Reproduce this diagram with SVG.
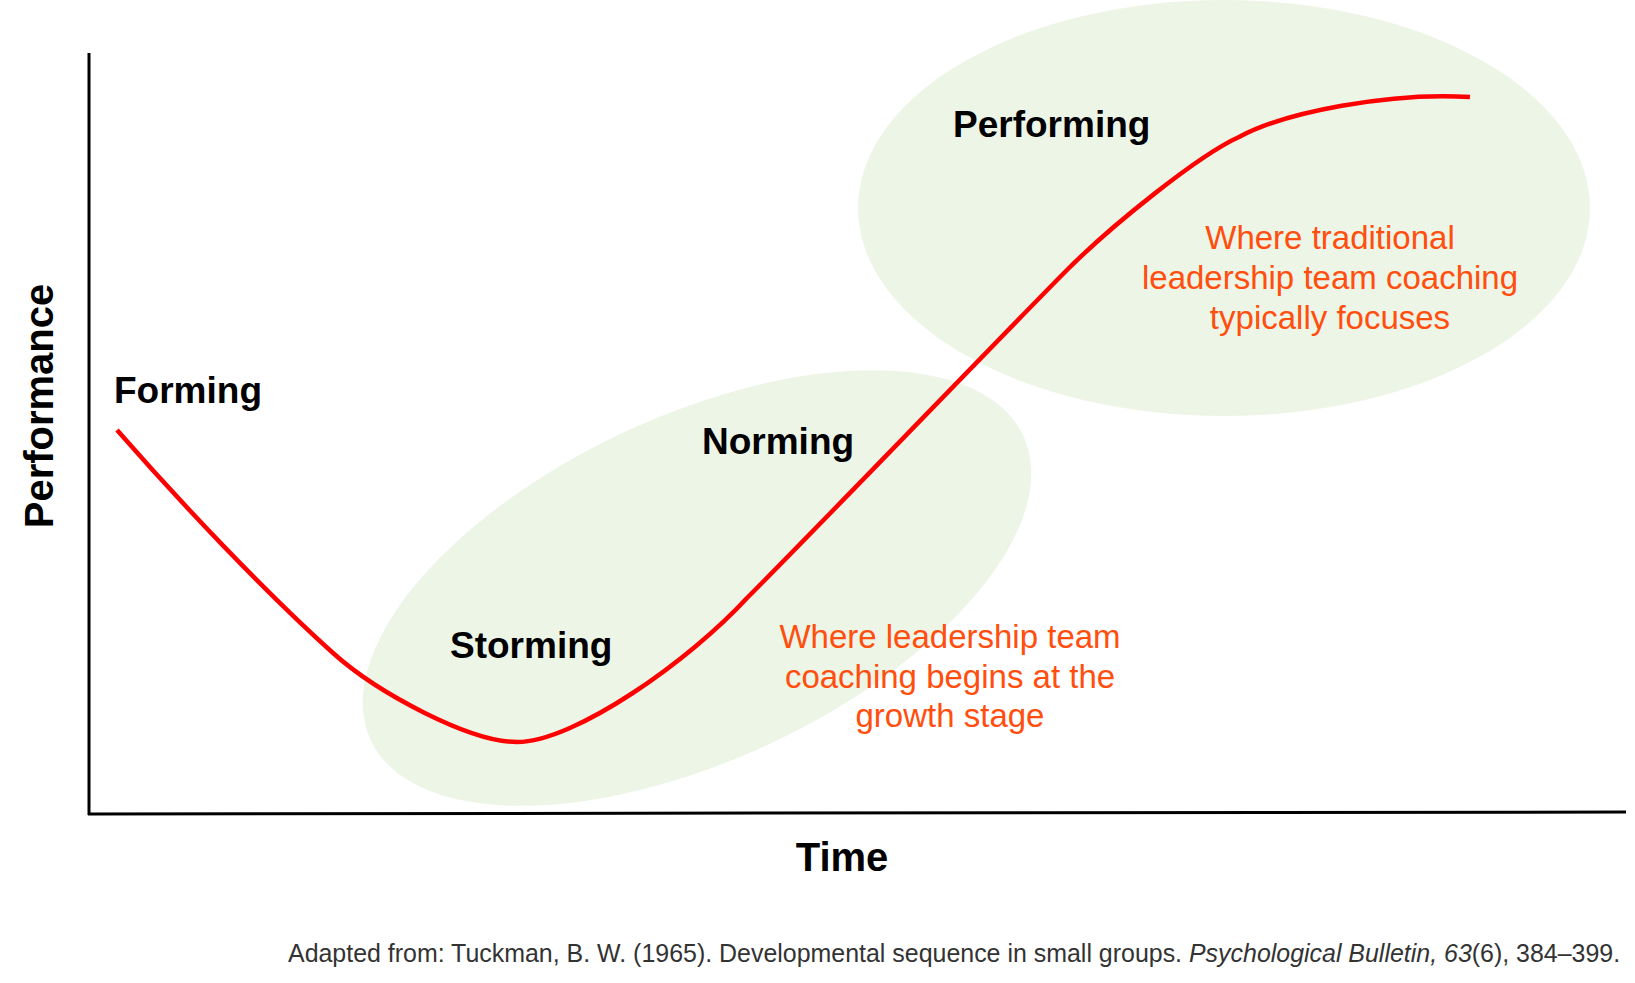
<svg xmlns="http://www.w3.org/2000/svg" width="1635" height="983" viewBox="0 0 1635 983">
<style>
.zone{fill:#EDF5E7;}
.stage{font-family:"Liberation Sans",Arial,sans-serif;font-weight:bold;font-size:37px;fill:#000;}
.axis{font-family:"Liberation Sans",Arial,sans-serif;font-weight:bold;font-size:40px;fill:#000;}
.note{font-family:"Liberation Sans",Arial,sans-serif;font-size:33px;fill:#FF4E0D;text-anchor:middle;}
.cite{font-family:"Liberation Sans",Arial,sans-serif;font-size:24.95px;fill:#333;}
.axisline{stroke:#000;stroke-width:3;fill:none;}
.curve{stroke:#FF0000;stroke-width:4.5;fill:none;stroke-linecap:butt;}
</style>
<rect width="1635" height="983" fill="#fff"/>
<g id="zone-performing"><ellipse class="zone" cx="1224" cy="208" rx="366" ry="208"/></g>
<g id="zone-growth"><ellipse class="zone" cx="697" cy="588" rx="360" ry="172" transform="rotate(-25 697 588)"/></g>
<g id="axes">
<line class="axisline" x1="89" y1="53" x2="89" y2="815"/>
<line class="axisline" x1="88" y1="814" x2="1626" y2="812"/>
<text class="axis" transform="translate(53,406) rotate(-90)" text-anchor="middle" font-size="42">Performance</text>
<text class="axis" x="842" y="871" text-anchor="middle">Time</text>
</g>
<g id="connectors">
<path class="curve" d="M117,430 C180,502 265,592 333,653 C378,693.4 470,742 517,742 C575,742 690,660 747,598 C820,525 1017,320 1067,270 C1112,225 1199,155 1239,137 C1285,112 1390,92 1470,97"/>
</g>
<g id="forming"><text class="stage" x="114" y="403">Forming</text></g>
<g id="storming"><text class="stage" x="450" y="658">Storming</text></g>
<g id="norming"><text class="stage" x="702" y="454">Norming</text></g>
<g id="performing"><text class="stage" x="953" y="137">Performing</text></g>
<g id="note-traditional">
<text class="note" x="1330" y="249">Where traditional</text>
<text class="note" x="1330" y="289">leadership team coaching</text>
<text class="note" x="1330" y="329">typically focuses</text>
</g>
<g id="note-growth">
<text class="note" x="950" y="648">Where leadership team</text>
<text class="note" x="950" y="688">coaching begins at the</text>
<text class="note" x="950" y="727">growth stage</text>
</g>
<g id="citation">
<text class="cite" x="288" y="962">Adapted from: Tuckman, B. W. (1965). Developmental sequence in small groups. <tspan font-style="italic">Psychological Bulletin, 63</tspan>(6), 384–399.</text>
</g>
</svg>
